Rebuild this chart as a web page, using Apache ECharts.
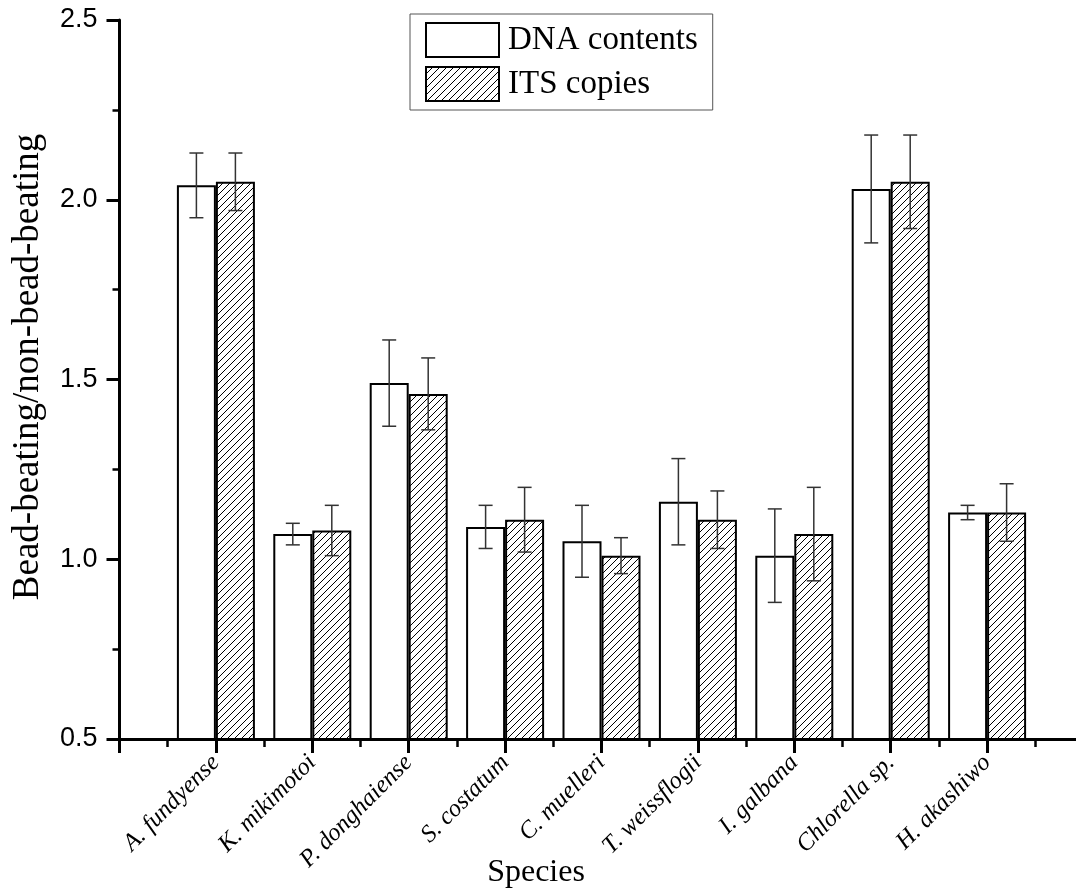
<!DOCTYPE html>
<html>
<head>
<meta charset="utf-8">
<script src="https://cdn.jsdelivr.net/npm/echarts@6/dist/echarts.min.js"></script>
<style>
html,body{margin:0;padding:0;background:#fff;}
#chart{width:1076px;height:892px;}
</style>
</head>
<body>
<div id="chart"></div>
<script>
const categories = ['A. fundyense','K. mikimotoi','P. donghaiense','S. costatum','C. muelleri','T. weissflogii','I. galbana','Chlorella sp.','H. akashiwo'];
const dnaMean = [2.04, 1.07, 1.49, 1.09, 1.05, 1.16, 1.01, 2.03, 1.13];
const dnaErr  = [0.09, 0.03, 0.12, 0.06, 0.10, 0.12, 0.13, 0.15, 0.02];
const itsMean = [2.05, 1.08, 1.46, 1.11, 1.01, 1.11, 1.07, 2.05, 1.13];
const itsErr  = [0.08, 0.07, 0.10, 0.09, 0.05, 0.08, 0.13, 0.13, 0.08];
const yTicks = [0.5, 1.0, 1.5, 2.0, 2.5];
const seriesNames = ['DNA contents', 'ITS copies'];

// hatch pattern
const S = 7;
const pc = document.createElement('canvas');
pc.width = S; pc.height = S;
const ctx = pc.getContext('2d');
ctx.fillStyle = '#fff'; ctx.fillRect(0,0,S,S);
ctx.strokeStyle = '#000'; ctx.lineWidth = 1;
[-S, 0, S].forEach(x0 => { ctx.beginPath(); ctx.moveTo(x0, S); ctx.lineTo(x0 + S, 0); ctx.stroke(); });

const BW = 39;
const barData = m => m.map((v, i) => [i + 1, v]);
const errData = (m, e) => m.map((v, i) => [i + 1, v + e[i], v - e[i]]);

function errSeries(data, off) {
  return {
    type: 'custom', z: 5, silent: true,
    data: data,
    encode: { x: 0, y: [1, 2] },
    renderItem: function (params, api) {
      const x = api.value(0);
      const t = api.coord([x, api.value(1)]);
      const b = api.coord([x, api.value(2)]);
      const cx = t[0] + off;
      const st = { stroke: '#333', lineWidth: 1.5 };
      return { type: 'group', children: [
        { type: 'line', shape: { x1: cx, y1: t[1], x2: cx, y2: b[1] }, style: st },
        { type: 'line', shape: { x1: cx - 7, y1: t[1], x2: cx + 7, y2: t[1] }, style: st },
        { type: 'line', shape: { x1: cx - 7, y1: b[1], x2: cx + 7, y2: b[1] }, style: st }
      ]};
    }
  };
}

const chart = echarts.init(document.getElementById('chart'));
chart.setOption({
  animation: false,
  backgroundColor: '#fff',
  grid: { left: 119.5, right: -7.5, top: 20, bottom: 153, containLabel: false, outerBoundsMode: 'none' },
  legend: {
    data: seriesNames,
    orient: 'vertical', left: 410, top: 14,
    padding: [8, 15, 8, 15],
    itemWidth: 73, itemHeight: 34, itemGap: 8,
    borderColor: '#555', borderWidth: 1,
    icon: 'rect',
    textStyle: { fontFamily: 'Liberation Serif', fontSize: 33, color: '#000', lineHeight: 34, padding: [0, 0, 0, 4] }
  },
  xAxis: {
    type: 'value', min: 0, max: 10, interval: 1,
    splitLine: { show: false },
    axisLine: { lineStyle: { color: '#000', width: 3 } },
    axisTick: { length: 14, lineStyle: { color: '#000', width: 3 } },
    minorTick: { show: true, splitNumber: 2, length: 8, lineStyle: { color: '#000', width: 2.5 } },
    axisLabel: {
      rotate: 45, margin: 20,
      fontFamily: 'Liberation Serif', fontStyle: 'italic', fontSize: 24.5, color: '#000',
      formatter: v => (Number.isInteger(v) && categories[v - 1]) ? categories[v - 1] : ''
    }
  },
  yAxis: {
    type: 'value', min: yTicks[0], max: yTicks[yTicks.length - 1], interval: 0.5,
    splitLine: { show: false },
    axisLine: { show: true, lineStyle: { color: '#000', width: 3 } },
    axisTick: { show: true, length: 13, lineStyle: { color: '#000', width: 3 } },
    minorTick: { show: true, splitNumber: 2, length: 7, lineStyle: { color: '#000', width: 2.5 } },
    axisLabel: {
      margin: 22, fontFamily: 'Liberation Sans', fontSize: 27, color: '#000',
      formatter: v => v.toFixed(1)
    }
  },
  graphic: [
    { type: 'text', x: 536, y: 873, style: { text: 'Species', font: '32px "Liberation Serif"', fill: '#000', textAlign: 'center', textVerticalAlign: 'middle' } },
    { type: 'text', x: 28, y: 367, rotation: Math.PI / 2, style: { text: 'Bead-beating/non-bead-beating', font: '37px "Liberation Serif"', fill: '#000', textAlign: 'center', textVerticalAlign: 'middle' } }
  ],
  series: [
    { name: seriesNames[0], type: 'bar', data: barData(dnaMean), barWidth: BW, barGap: '0%',
      itemStyle: { color: '#fff', borderColor: '#000', borderWidth: 2 } },
    { name: seriesNames[1], type: 'bar', data: barData(itsMean), barWidth: BW, barGap: '0%',
      itemStyle: { color: { image: pc, repeat: 'repeat' }, borderColor: '#000', borderWidth: 2 } },
    errSeries(errData(dnaMean, dnaErr), -BW / 2),
    errSeries(errData(itsMean, itsErr), BW / 2)
  ]
});
</script>
</body>
</html>
